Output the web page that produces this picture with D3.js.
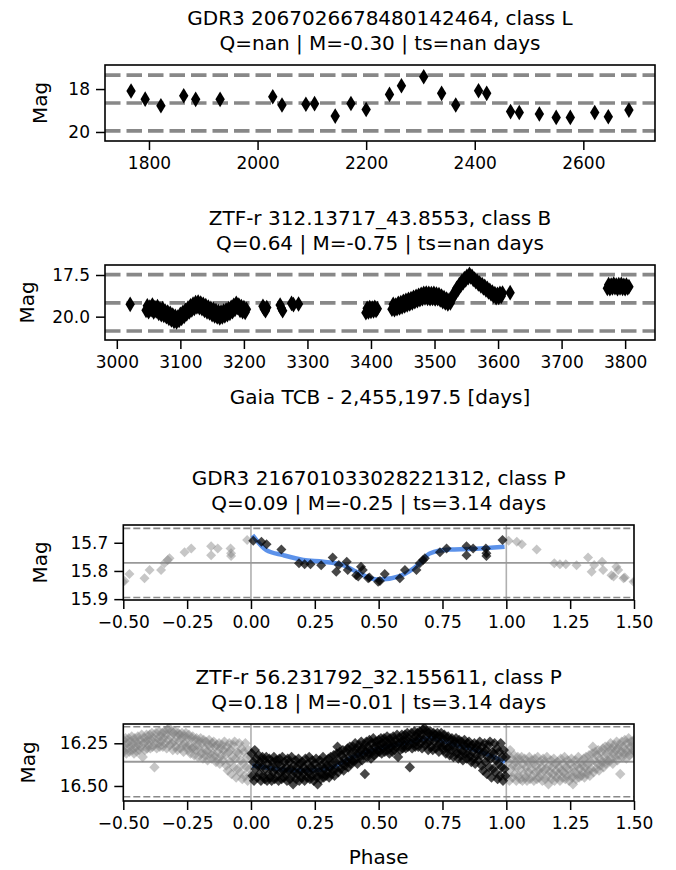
<!DOCTYPE html>
<html>
<head>
<meta charset="utf-8">
<script src="https://cdn.jsdelivr.net/npm/d3@7"></script>
<style>
  body { margin: 0; background: #fff; }
  svg { display: block; }
  text { font-family: "DejaVu Sans", sans-serif; fill: #000; }
</style>
</head>
<body>
<div id="chart"></div>
<script>
// ---------- Light curve data ----------

// GDR3 2067026678480142464 (class L)
const gaiaLTimes = [1767, 1793, 1822, 1864, 1886, 1931, 2028, 2045, 2089, 2105, 2143, 2172, 2200,
  2243, 2265, 2306, 2339, 2365, 2407, 2422, 2466, 2482, 2519, 2550, 2576, 2621, 2646, 2684];
const gaiaLMags = [18.09, 18.47, 18.78, 18.31, 18.48, 18.48, 18.36, 18.74, 18.71, 18.68, 19.26, 18.67, 18.95,
  18.25, 17.85, 17.43, 18.20, 18.74, 18.08, 18.20, 19.05, 19.09, 19.16, 19.32, 19.32, 19.09, 19.29, 18.98];
const gaiaLLevels = [17.35, 18.65, 19.95];

// ZTF-r 312.13717_43.8553 (class B): [time, mag]
const ztfB = [
  [3021, 19.26],
  [3046, 19.62], [3048, 19.35], [3050, 19.70], [3052, 19.42], [3054, 19.58], [3056, 19.30], [3058, 19.72],
  [3060, 19.45], [3062, 19.66], [3064, 19.40], [3066, 19.80], [3068, 19.55], [3070, 19.88], [3072, 19.52],
  [3074, 19.92], [3076, 19.66], [3078, 20.00], [3080, 19.72], [3082, 20.10], [3084, 19.80], [3086, 20.20],
  [3088, 19.90], [3090, 20.28], [3092, 19.98], [3094, 20.32], [3096, 20.02], [3098, 20.22], [3100, 19.86],
  [3102, 20.10], [3104, 19.74], [3106, 19.98], [3108, 19.62], [3110, 19.84], [3112, 19.48], [3114, 19.72],
  [3116, 19.35], [3118, 19.60], [3120, 19.25], [3122, 19.50], [3124, 19.16], [3126, 19.42], [3128, 19.12],
  [3130, 19.46], [3132, 19.18], [3134, 19.52], [3136, 19.26], [3138, 19.62], [3140, 19.34], [3142, 19.72],
  [3144, 19.42], [3146, 19.78], [3148, 19.50], [3150, 19.88], [3152, 19.56], [3154, 19.96], [3156, 19.64],
  [3158, 20.02], [3160, 19.70], [3162, 20.08], [3164, 19.72], [3166, 20.02], [3168, 19.66], [3170, 19.95],
  [3172, 19.60], [3174, 19.88], [3176, 19.52], [3178, 19.80], [3180, 19.44], [3182, 19.70], [3184, 19.32],
  [3186, 19.56], [3188, 19.20], [3190, 19.44], [3192, 19.30], [3194, 19.62], [3196, 19.40], [3198, 19.70],
  [3200, 19.46], [3202, 19.74], [3204, 19.56],
  [3230, 19.38], [3232, 19.54], [3234, 19.64], [3236, 19.45],
  [3257, 19.30], [3259, 19.50], [3261, 19.64],
  [3275, 19.20], [3278, 19.28], [3286, 19.24],
  [3392, 19.76], [3394, 19.50], [3396, 19.72], [3398, 19.46], [3400, 19.68], [3402, 19.48], [3404, 19.66],
  [3406, 19.44], [3408, 19.62], [3410, 19.52],
  [3433, 19.55], [3435, 19.26], [3437, 19.58], [3439, 19.30], [3441, 19.52], [3443, 19.20], [3445, 19.48],
  [3447, 19.16], [3449, 19.42], [3451, 19.08], [3453, 19.36], [3455, 19.02], [3457, 19.30], [3459, 18.96],
  [3461, 19.24], [3463, 18.92], [3465, 19.18], [3467, 18.84], [3469, 19.10], [3471, 18.78], [3473, 19.04],
  [3475, 18.72], [3477, 18.98], [3479, 18.66], [3481, 18.92], [3483, 18.60], [3485, 18.88], [3487, 18.58],
  [3489, 18.90], [3491, 18.60], [3493, 18.92], [3495, 18.62], [3497, 18.90], [3499, 18.60], [3501, 18.94],
  [3503, 18.64], [3505, 18.92], [3507, 18.68], [3509, 19.00], [3511, 18.76], [3513, 19.10], [3515, 18.86],
  [3517, 19.18], [3519, 18.94], [3521, 19.24], [3523, 19.00], [3525, 19.18], [3527, 18.88], [3529, 18.84],
  [3531, 18.56], [3533, 18.58], [3535, 18.30], [3537, 18.36], [3539, 18.08], [3541, 18.14], [3543, 17.88],
  [3545, 17.96], [3547, 17.72], [3549, 17.80], [3551, 17.58], [3553, 17.66], [3555, 17.46], [3557, 17.62],
  [3559, 17.58], [3561, 17.76], [3563, 17.74], [3565, 17.90], [3567, 17.86], [3569, 18.04], [3571, 17.98],
  [3573, 18.16], [3575, 18.08], [3577, 18.28], [3579, 18.18], [3581, 18.40], [3583, 18.30], [3585, 18.52],
  [3587, 18.42], [3589, 18.64], [3591, 18.52], [3593, 18.76], [3595, 18.62], [3597, 18.86], [3599, 18.66],
  [3601, 18.84], [3603, 18.60], [3605, 18.78], [3607, 18.58], [3619, 18.56],
  [3772, 18.30], [3774, 18.08], [3776, 18.32], [3778, 18.10], [3780, 18.28], [3782, 18.04], [3784, 18.26],
  [3786, 18.10], [3788, 18.32], [3790, 18.08], [3792, 18.28], [3794, 18.06], [3796, 18.30], [3798, 18.12],
  [3800, 18.32], [3802, 18.10], [3804, 18.28], [3806, 18.20]
];
const ztfBLevels = [17.48, 19.17, 20.86];

// GDR3 216701033028221312 (class P), folded on 3.14 d: [phase, mag]
const gaiaP = [
  [0.009, 15.693], [0.041, 15.696], [0.061, 15.705], [0.119, 15.724], [0.188, 15.773], [0.210, 15.776],
  [0.233, 15.776], [0.275, 15.780], [0.320, 15.752], [0.334, 15.803], [0.344, 15.779], [0.375, 15.767],
  [0.379, 15.797], [0.412, 15.815], [0.420, 15.820], [0.431, 15.785], [0.438, 15.797], [0.459, 15.826],
  [0.464, 15.823], [0.498, 15.838], [0.505, 15.836], [0.524, 15.811], [0.583, 15.826], [0.603, 15.797],
  [0.648, 15.797], [0.661, 15.773], [0.674, 15.761], [0.681, 15.755], [0.740, 15.734], [0.766, 15.720],
  [0.844, 15.712], [0.844, 15.744], [0.870, 15.720], [0.920, 15.720], [0.922, 15.747], [0.922, 15.737],
  [0.985, 15.690]
];
const gaiaPModel = [
  [0.006, 15.673], [0.060, 15.726], [0.126, 15.744], [0.205, 15.761], [0.283, 15.767], [0.361, 15.779],
  [0.413, 15.803], [0.491, 15.830], [0.505, 15.830], [0.583, 15.818], [0.661, 15.773], [0.700, 15.738],
  [0.778, 15.724], [0.857, 15.722], [0.993, 15.714]
];
const gaiaPLevels = [15.649, 15.771, 15.894];

// ZTF-r 56.231792_32.155611 (class P), folded on 3.14 d: [phase, mag]
const ztfP = [
  [0.003,16.31],[0.006,16.44],[0.009,16.36],[0.012,16.47],[0.015,16.29],[0.018,16.40],[0.021,16.34],[0.024,16.45],
  [0.027,16.38],[0.030,16.32],[0.033,16.43],[0.036,16.36],[0.039,16.47],[0.042,16.39],[0.045,16.33],[0.048,16.44],
  [0.051,16.35],[0.054,16.46],[0.057,16.40],[0.060,16.33],[0.063,16.47],[0.066,16.37],[0.069,16.43],[0.072,16.34],
  [0.075,16.45],[0.078,16.39],[0.081,16.47],[0.084,16.36],[0.087,16.42],[0.090,16.33],[0.093,16.46],[0.096,16.40],
  [0.099,16.35],[0.102,16.44],[0.105,16.37],[0.108,16.47],[0.111,16.34],[0.114,16.42],[0.117,16.38],[0.120,16.46],
  [0.123,16.33],[0.126,16.41],[0.129,16.45],[0.132,16.36],[0.135,16.43],[0.138,16.39],[0.141,16.47],[0.144,16.34],
  [0.147,16.41],[0.150,16.36],[0.153,16.46],[0.156,16.40],[0.159,16.33],[0.162,16.44],[0.165,16.49],[0.168,16.38],
  [0.171,16.42],[0.174,16.35],[0.177,16.46],[0.180,16.39],[0.183,16.43],[0.186,16.34],[0.189,16.47],[0.192,16.37],
  [0.195,16.41],[0.198,16.45],[0.201,16.36],[0.204,16.43],[0.207,16.39],[0.210,16.47],[0.213,16.34],[0.216,16.41],
  [0.219,16.45],[0.222,16.37],[0.225,16.42],[0.228,16.33],[0.231,16.46],[0.234,16.39],[0.237,16.44],[0.240,16.35],
  [0.243,16.40],[0.246,16.47],[0.249,16.37],[0.252,16.43],[0.255,16.34],[0.258,16.45],[0.261,16.49],[0.264,16.39],
  [0.267,16.42],[0.270,16.35],[0.273,16.46],[0.276,16.38],[0.279,16.43],[0.282,16.33],[0.285,16.45],[0.288,16.40],
  [0.291,16.36],[0.294,16.44],[0.297,16.38],[0.300,16.42],[0.303,16.34],[0.306,16.45],[0.309,16.39],[0.312,16.33],
  [0.315,16.43],[0.318,16.37],[0.321,16.41],[0.324,16.32],[0.327,16.44],[0.330,16.36],[0.333,16.40],[0.336,16.31],
  [0.339,16.27],[0.342,16.42],[0.345,16.35],[0.348,16.30],
  [0.351,16.40],[0.354,16.32],[0.357,16.37],[0.360,16.29],[0.363,16.41],[0.366,16.34],[0.369,16.38],[0.372,16.30],
  [0.375,16.36],[0.378,16.28],[0.381,16.39],[0.384,16.33],[0.387,16.27],[0.390,16.37],[0.393,16.31],[0.396,16.35],
  [0.399,16.27],[0.402,16.36],[0.405,16.30],[0.408,16.25],[0.411,16.34],[0.414,16.28],[0.417,16.37],[0.420,16.31],
  [0.423,16.26],[0.426,16.33],[0.429,16.29],[0.432,16.24],[0.435,16.35],[0.438,16.28],[0.441,16.32],[0.444,16.26],
  [0.446,16.43],[0.449,16.30],[0.452,16.24],[0.455,16.33],[0.458,16.27],[0.461,16.31],[0.464,16.23],[0.467,16.29],
  [0.470,16.34],[0.473,16.25],[0.476,16.30],[0.479,16.22],[0.482,16.32],[0.485,16.27],[0.488,16.24],[0.491,16.31],
  [0.494,16.26],[0.497,16.29],
  [0.500,16.23],[0.503,16.30],[0.506,16.26],[0.509,16.22],[0.512,16.31],[0.515,16.25],[0.518,16.28],[0.521,16.22],
  [0.524,16.30],[0.527,16.24],[0.530,16.27],[0.533,16.21],[0.536,16.29],[0.539,16.25],[0.542,16.31],[0.545,16.22],
  [0.548,16.27],[0.551,16.24],[0.554,16.30],[0.557,16.21],[0.560,16.26],[0.563,16.29],[0.566,16.23],[0.569,16.27],
  [0.572,16.20],[0.576,16.33],[0.579,16.25],[0.582,16.22],[0.585,16.29],[0.588,16.24],[0.591,16.20],[0.594,16.28],
  [0.597,16.23],[0.600,16.26],[0.603,16.20],[0.606,16.28],[0.609,16.23],[0.612,16.19],[0.615,16.27],[0.618,16.22],
  [0.622,16.39],[0.625,16.25],[0.628,16.19],[0.631,16.28],[0.634,16.22],[0.637,16.25],[0.640,16.18],[0.643,16.27],
  [0.646,16.21],[0.649,16.24],[0.652,16.19],[0.655,16.27],[0.658,16.22],[0.661,16.18],[0.664,16.25],[0.667,16.20],
  [0.670,16.28],[0.673,16.17],[0.676,16.23],[0.679,16.16],[0.682,16.26],[0.685,16.21],[0.688,16.18],[0.691,16.25],
  [0.694,16.29],[0.697,16.19],
  [0.700,16.24],[0.703,16.18],[0.706,16.27],[0.709,16.21],[0.712,16.29],[0.715,16.19],[0.718,16.24],[0.721,16.20],
  [0.724,16.28],[0.727,16.22],[0.730,16.19],[0.733,16.26],[0.736,16.30],[0.739,16.21],[0.742,16.25],[0.745,16.19],
  [0.748,16.27],[0.751,16.22],[0.754,16.29],[0.757,16.20],[0.760,16.26],[0.763,16.31],[0.766,16.22],[0.769,16.28],
  [0.772,16.21],[0.775,16.27],[0.778,16.32],[0.781,16.23],[0.784,16.29],[0.787,16.22],[0.790,16.26],[0.793,16.33],
  [0.796,16.24],[0.800,16.29],[0.803,16.22],[0.806,16.31],[0.809,16.25],[0.812,16.34],[0.815,16.23],[0.818,16.28],
  [0.821,16.32],[0.824,16.24],[0.827,16.30],[0.830,16.35],[0.833,16.26],[0.836,16.23],[0.839,16.31],[0.842,16.27],
  [0.845,16.34],[0.848,16.25],
  [0.851,16.31],[0.854,16.24],[0.857,16.33],[0.860,16.27],[0.863,16.36],[0.866,16.26],[0.869,16.30],[0.872,16.34],
  [0.875,16.25],[0.878,16.37],[0.881,16.28],[0.884,16.32],[0.887,16.26],[0.890,16.35],[0.893,16.29],[0.896,16.24],
  [0.900,16.32],[0.903,16.38],[0.906,16.27],[0.909,16.41],[0.912,16.30],[0.915,16.25],[0.918,16.36],[0.921,16.29],
  [0.924,16.43],[0.927,16.33],[0.930,16.26],[0.933,16.39],[0.936,16.24],[0.939,16.34],[0.942,16.45],[0.945,16.30],
  [0.948,16.40],[0.951,16.31],[0.954,16.25],[0.957,16.42],[0.960,16.35],[0.963,16.28],[0.966,16.46],[0.969,16.37],
  [0.972,16.30],[0.975,16.44],[0.978,16.25],[0.981,16.39],[0.984,16.33],[0.987,16.47],[0.990,16.29],[0.993,16.40],
  [0.996,16.44],[0.998,16.33]
];
const ztfPModel = [
  [0.005, 16.38], [0.10, 16.40], [0.20, 16.41], [0.30, 16.40], [0.40, 16.33], [0.50, 16.28],
  [0.60, 16.25], [0.70, 16.22], [0.80, 16.26], [0.90, 16.30], [0.995, 16.36]
];
const ztfPLevels = [16.153, 16.358, 16.563];

// Tick values
const ticksX1 = [1800, 2000, 2200, 2400, 2600];
const ticksY1 = [18, 20];
const ticksX2 = [3000, 3100, 3200, 3300, 3400, 3500, 3600, 3700, 3800];
const ticksY2 = [17.5, 20.0];
const ticksPhase = [-0.5, -0.25, 0, 0.25, 0.5, 0.75, 1.0, 1.25, 1.5];
const ticksY3 = [15.7, 15.8, 15.9];
const ticksY4 = [16.25, 16.50];

// Panel titles
const titles = [
  ["GDR3 2067026678480142464, class L", "Q=nan | M=-0.30 | ts=nan days"],
  ["ZTF-r 312.13717_43.8553, class B", "Q=0.64 | M=-0.75 | ts=nan days"],
  ["GDR3 216701033028221312, class P", "Q=0.09 | M=-0.25 | ts=3.14 days"],
  ["ZTF-r 56.231792_32.155611, class P", "Q=0.18 | M=-0.01 | ts=3.14 days"]
];

// ---------- Drawing ----------
const W = 676, H = 870;
const TITLE_FS = 20, TICK_FS = 17, LABEL_FS = 20, TICK_LEN = 9;

const svg = d3.select("#chart").append("svg")
  .attr("width", W).attr("height", H)
  .attr("viewBox", `0 0 ${W} ${H}`);

svg.append("rect").attr("width", W).attr("height", H).attr("fill", "#fff");

// diamond marker path with half-width hw and half-height hh
const diamond = (hw, hh) => `M0,${-hh}L${hw},0L0,${hh}L${-hw},0Z`;

let clipCount = 0;

function makePanel(opt) {
  const g = svg.append("g");
  const x = d3.scaleLinear().domain(opt.xDomain).range([opt.left, opt.right]);
  const y = d3.scaleLinear().domain(opt.yDomain).range([opt.top, opt.bottom]);

  const clipId = "clip" + (clipCount++);
  svg.append("clipPath").attr("id", clipId)
    .append("rect")
    .attr("x", opt.left).attr("y", opt.top)
    .attr("width", opt.right - opt.left).attr("height", opt.bottom - opt.top);

  const plot = g.append("g").attr("clip-path", `url(#${clipId})`);

  // two-line title
  const cx = (opt.left + opt.right) / 2;
  g.append("text").attr("x", cx).attr("y", opt.top - 40)
    .attr("text-anchor", "middle").attr("font-size", TITLE_FS).text(opt.title[0]);
  g.append("text").attr("x", cx).attr("y", opt.top - 15)
    .attr("text-anchor", "middle").attr("font-size", TITLE_FS).text(opt.title[1]);

  const xAxis = d3.axisBottom(x).tickValues(opt.xTicks).tickFormat(opt.xFormat)
    .tickSizeOuter(0).tickSizeInner(TICK_LEN).tickPadding(7);
  const yAxis = d3.axisLeft(y).tickValues(opt.yTicks).tickFormat(opt.yFormat)
    .tickSizeOuter(0).tickSizeInner(TICK_LEN).tickPadding(6);

  const gx = g.append("g").attr("transform", `translate(0,${opt.bottom})`).call(xAxis);
  const gy = g.append("g").attr("transform", `translate(${opt.left},0)`).call(yAxis);
  [gx, gy].forEach(a => {
    a.select(".domain").remove();
    a.selectAll(".tick line").attr("stroke", "#000").attr("stroke-width", 1.5);
    a.selectAll(".tick text").attr("font-size", TICK_FS).attr("fill", "#000")
      .style("font-family", '"DejaVu Sans", sans-serif');
  });

  g.append("text")
    .attr("transform", `translate(${opt.yLabelX},${(opt.top + opt.bottom) / 2}) rotate(-90)`)
    .attr("text-anchor", "middle").attr("dominant-baseline", "central")
    .attr("font-size", LABEL_FS).text("Mag");

  if (opt.xLabel) {
    g.append("text").attr("x", cx).attr("y", opt.bottom + opt.xLabelOffset)
      .attr("text-anchor", "middle").attr("font-size", LABEL_FS).text(opt.xLabel);
  }

  return { g, plot, x, y };
}

function drawBox(p, opt) {
  p.g.append("rect")
    .attr("x", opt.left).attr("y", opt.top)
    .attr("width", opt.right - opt.left).attr("height", opt.bottom - opt.top)
    .attr("fill", "none").attr("stroke", "#000").attr("stroke-width", 1.6);
}

// ---- time-series panels ----
function timePanel(opt, points, levels) {
  const p = makePanel(opt);
  p.plot.selectAll("line.level").data(levels).join("line")
    .attr("class", "level")
    .attr("x1", opt.left).attr("x2", opt.right)
    .attr("y1", d => p.y(d)).attr("y2", d => p.y(d))
    .attr("stroke", "#888").attr("stroke-width", 3.6)
    .attr("stroke-dasharray", "15.5,6");
  p.plot.selectAll("path.pt").data(points).join("path")
    .attr("class", "pt")
    .attr("d", diamond(4.7, 7.8))
    .attr("transform", d => `translate(${p.x(d[0])},${p.y(d[1])})`)
    .attr("fill", "#000");
  drawBox(p, opt);
}

// ---- phase-folded panels ----
function phasePanel(opt, points, model, levels) {
  const p = makePanel(opt);
  p.plot.selectAll("line.vref").data([0, 1]).join("line")
    .attr("class", "vref")
    .attr("x1", d => p.x(d)).attr("x2", d => p.x(d))
    .attr("y1", opt.top).attr("y2", opt.bottom)
    .attr("stroke", "#b0b0b0").attr("stroke-width", 1.6);
  p.plot.append("line")
    .attr("x1", opt.left).attr("x2", opt.right)
    .attr("y1", p.y(levels[1])).attr("y2", p.y(levels[1]))
    .attr("stroke", "#999").attr("stroke-width", 1.8);
  p.plot.selectAll("line.band").data([levels[0], levels[2]]).join("line")
    .attr("class", "band")
    .attr("x1", opt.left).attr("x2", opt.right)
    .attr("y1", d => p.y(d)).attr("y2", d => p.y(d))
    .attr("stroke", "#888").attr("stroke-width", 1.6)
    .attr("stroke-dasharray", "7,3");

  // folded copies one cycle either side
  const copies = [];
  points.forEach(d => {
    copies.push([d[0] - 1, d[1]]);
    copies.push([d[0] + 1, d[1]]);
  });
  const dm = diamond(opt.ms, opt.ms);
  p.plot.selectAll("path.copy").data(copies.filter(d => d[0] >= -0.56 && d[0] <= 1.56)).join("path")
    .attr("class", "copy")
    .attr("d", dm)
    .attr("transform", d => `translate(${p.x(d[0])},${p.y(d[1])})`)
    .attr("fill", "#808080").attr("fill-opacity", 0.45);

  // model curve
  p.plot.append("path").datum(model)
    .attr("d", d3.line().x(d => p.x(d[0])).y(d => p.y(d[1])).curve(d3.curveMonotoneX))
    .attr("fill", "none").attr("stroke", "#4a86e8").attr("stroke-width", 4.5)
    .attr("stroke-opacity", 0.9);

  p.plot.selectAll("path.pt").data(points).join("path")
    .attr("class", "pt")
    .attr("d", dm)
    .attr("transform", d => `translate(${p.x(d[0])},${p.y(d[1])})`)
    .attr("fill", "#000").attr("fill-opacity", 0.72);
  drawBox(p, opt);
}

const gaiaL = gaiaLTimes.map((t, i) => [t, gaiaLMags[i]]);

timePanel({
  left: 105, right: 655, top: 65, bottom: 141,
  xDomain: [1719, 2732], yDomain: [16.88, 20.42],
  xTicks: ticksX1, yTicks: ticksY1, xFormat: d3.format("d"), yFormat: d3.format("d"),
  title: titles[0], yLabelX: 40
}, gaiaL, gaiaLLevels);

timePanel({
  left: 105, right: 655, top: 265, bottom: 340,
  xDomain: [2981.4, 3847], yDomain: [16.9, 21.4],
  xTicks: ticksX2, yTicks: ticksY2, xFormat: d3.format("d"), yFormat: d3.format(".1f"),
  title: titles[1], yLabelX: 27,
  xLabel: "Gaia TCB - 2,455,197.5 [days]", xLabelOffset: 64
}, ztfB, ztfBLevels);

phasePanel({
  left: 123.3, right: 634, top: 525, bottom: 600,
  xDomain: [-0.5, 1.5], yDomain: [15.637, 15.903],
  xTicks: ticksPhase, yTicks: ticksY3, xFormat: d3.format(".2f"), yFormat: d3.format(".1f"),
  title: titles[2], yLabelX: 40, ms: 5
}, gaiaP, gaiaPModel, gaiaPLevels);

phasePanel({
  left: 123.3, right: 634, top: 724, bottom: 801,
  xDomain: [-0.5, 1.5], yDomain: [16.137, 16.588],
  xTicks: ticksPhase, yTicks: ticksY4, xFormat: d3.format(".2f"), yFormat: d3.format(".2f"),
  title: titles[3], yLabelX: 28, ms: 5.2,
  xLabel: "Phase", xLabelOffset: 63
}, ztfP, ztfPModel, ztfPLevels);
</script>
</body>
</html>
